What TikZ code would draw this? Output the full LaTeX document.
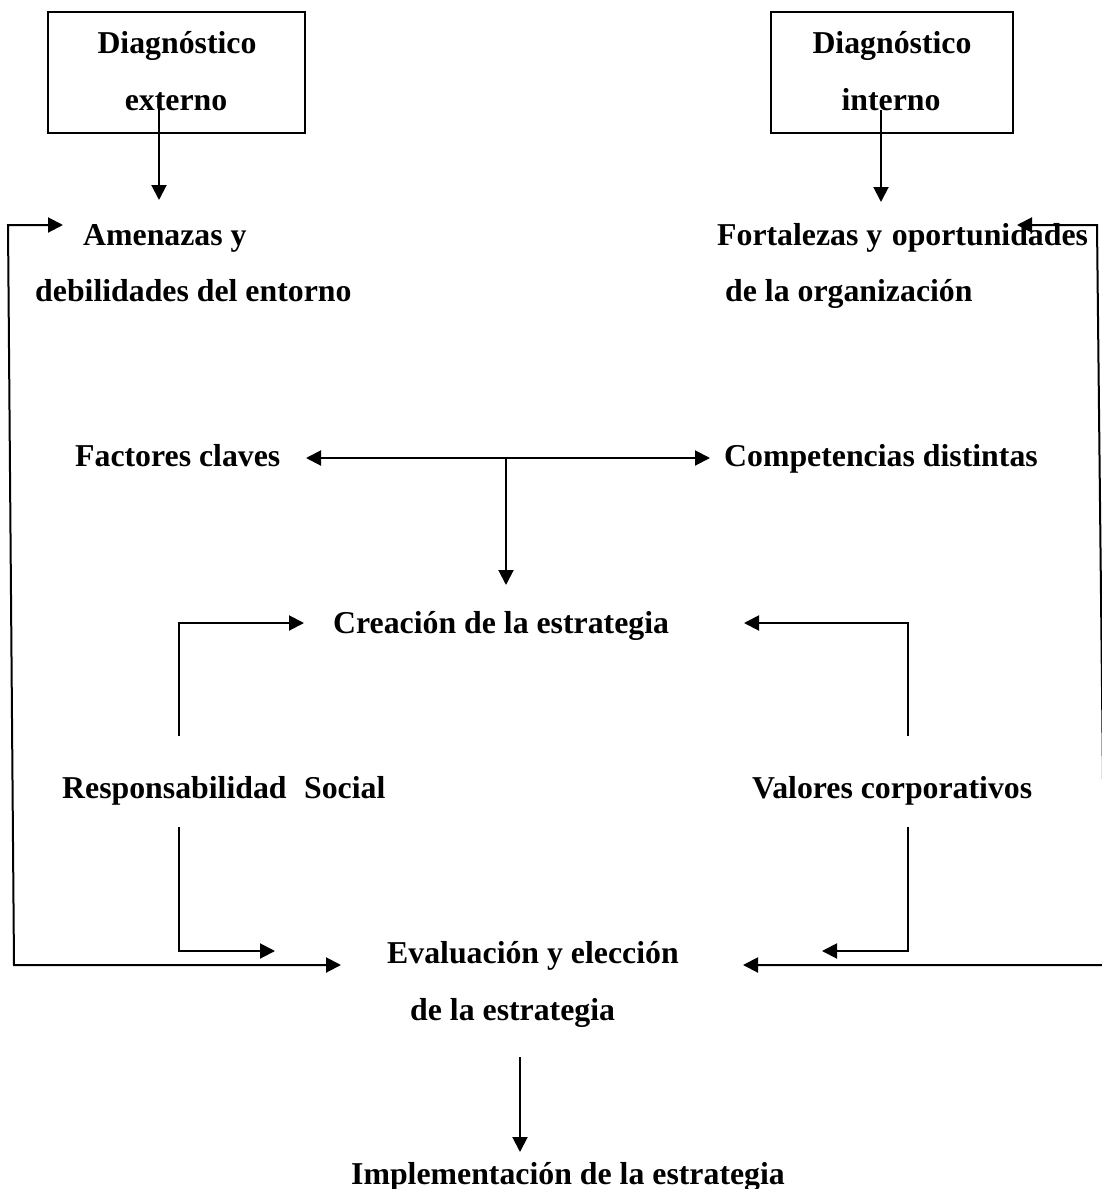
\documentclass[tikz,border=0pt]{standalone}
\usepackage{fontspec}
\setmainfont{Liberation Serif}
\usetikzlibrary{arrows.meta}

\begin{document}
\begin{tikzpicture}[x=1pt,y=-1pt,
  lbl/.style={inner sep=0pt, anchor=base west,
    font=\fontsize{31.8}{38}\selectfont\bfseries},
  ctr/.style={lbl, anchor=base},
  diagbox/.style={draw, line width=2pt, inner sep=0pt},
  conn/.style={line width=2pt},
  arr/.style={conn, -{Triangle[length=15pt,width=15pt]}},
  darr/.style={conn, {Triangle[length=15pt,width=15pt]}-{Triangle[length=15pt,width=15pt]}}]

\useasboundingbox (0,0) rectangle (1102,1189);

% diagnosis boxes
\node[diagbox, minimum width=257pt, minimum height=121pt] (extbox) at (176.5,72.5) {};
\node[diagbox, minimum width=242pt, minimum height=121pt] (intbox) at (892,72.5) {};
\node[ctr] (ext1) at (177,53) {Diagnóstico};
\node[ctr] (ext2) at (176,110) {externo};
\node[ctr] (int1) at (892,53) {Diagnóstico};
\node[ctr] (int2) at (891,110) {interno};

% text blocks
\node[lbl] (amen1) at (83,245) {Amenazas y};
\node[lbl] (amen2) at (35,301) {debilidades del entorno};
\node[lbl] (fort1) at (717,245) {Fortalezas y\hspace{0.3em}oportunidades};
\node[lbl] (fort2) at (725,301) {de la organización};
\node[lbl] (fact) at (75,466) {Factores claves};
\node[lbl] (comp) at (724,466) {Competencias distintas};
\node[lbl] (crea) at (333,633) {Creación de la estrategia};
\node[lbl] (resp) at (62,798) {Responsabilidad\hspace{0.55em}Social};
\node[lbl] (valo) at (752,798) {Valores corporativos};
\node[lbl] (eval1) at (387,963) {Evaluación y elección};
\node[lbl] (eval2) at (410,1020) {de la estrategia};
\node[lbl] (impl) at (351,1184) {Implementación de la estrategia};

% connector end points
\coordinate (extout) at (159,108);
\coordinate (amenin) at (159,200);
\coordinate (intout) at (881,110);
\coordinate (fortin) at (881,202);
\coordinate (factin) at (306,458);
\coordinate (compin) at (710,458);
\coordinate (split) at (506,458);
\coordinate (creatop) at (506,585);
\coordinate (respup) at (179,736);
\coordinate (resptop) at (179,623);
\coordinate (creainl) at (304,623);
\coordinate (valoup) at (908,736);
\coordinate (valotop) at (908,623);
\coordinate (creainr) at (744,623);
\coordinate (respdn) at (179,827);
\coordinate (respbot) at (179,951);
\coordinate (evalinl) at (275,951);
\coordinate (valodn) at (908,827);
\coordinate (valobot) at (908,951);
\coordinate (evalinr) at (822,951);
\coordinate (evalfbl) at (341,965);
\coordinate (fblbot) at (14,965);
\coordinate (fbltop) at (8,225);
\coordinate (amenfb) at (63,225);
\coordinate (evalfbr) at (743,965);
\coordinate (fbrbot) at (1105,965);
\coordinate (fbrtop) at (1097,225);
\coordinate (fortfb) at (1017,225);
\coordinate (evalout) at (520,1057);
\coordinate (implin) at (520,1152);

% connectors
\draw[arr] (extout) -- (amenin);
\draw[arr] (intout) -- (fortin);
\draw[darr] (factin) -- (compin);
\draw[arr] (split) -- (creatop);
\draw[arr] (respup) -- (resptop) -- (creainl);
\draw[arr] (valoup) -- (valotop) -- (creainr);
\draw[arr] (respdn) -- (respbot) -- (evalinl);
\draw[arr] (valodn) -- (valobot) -- (evalinr);
\draw[darr] (evalfbl) -- (fblbot) -- (fbltop) -- (amenfb);
\draw[darr] (evalfbr) -- (fbrbot) -- (fbrtop) -- (fortfb);
\draw[arr] (evalout) -- (implin);

\end{tikzpicture}
\end{document}
